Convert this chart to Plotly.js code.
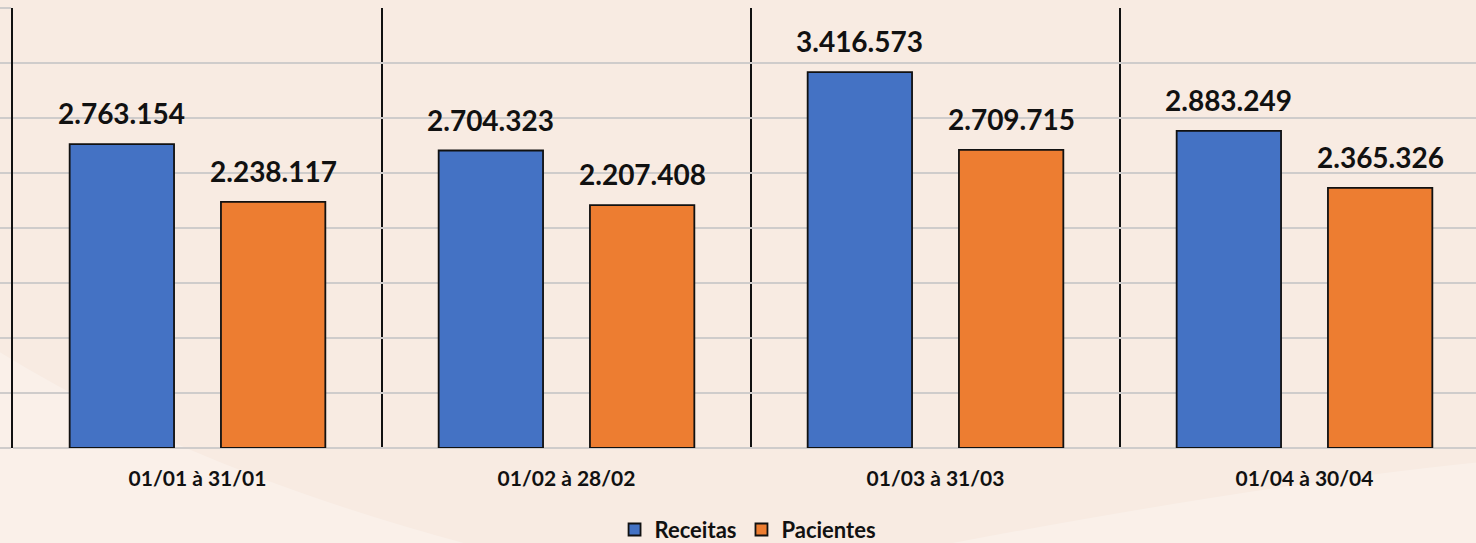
<!DOCTYPE html>
<html>
<head>
<meta charset="utf-8">
<script src="https://cdn.plot.ly/plotly-3.0.1.min.js"></script>
<style>
  html, body { margin: 0; padding: 0; overflow: hidden; background: #f8ebe2; }
  #chart { width: 1490px; height: 543px; }
</style>
</head>
<body>
<div id="chart"></div>
<script>
// ---- data ----
const categories = ["01/01 à 31/01", "01/02 à 28/02", "01/03 à 31/03", "01/04 à 30/04"];
const receitas = [2763154, 2704323, 3416573, 2883249];
const pacientes = [2238117, 2207408, 2709715, 2365326];
const seriesNames = ["Receitas", "Pacientes"];
const seriesColors = ["#4472C4", "#ED7D31"];

function fmt(v) {
  return String(v).replace(/\B(?=(\d{3})+(?!\d))/g, ".");
}

const BARGAP = 0.18;
const BARGROUPGAP = 0.31;
const slot = (1 - BARGAP) / 2;

const fontFam = "Lato, 'Open Sans', sans-serif";

const traces = [receitas, pacientes].map((vals, k) => ({
  type: "bar",
  name: seriesNames[k],
  x: categories,
  y: vals,
  marker: { color: seriesColors[k], line: { color: "#111111", width: 1.8 } },
  hoverinfo: "none"
}));

const annotations = [];
[receitas, pacientes].forEach((vals, k) => {
  const off = (k === 0 ? -1 : 1) * slot / 2;
  vals.forEach((v, i) => {
    annotations.push({
      x: i + off, y: v, xref: "x", yref: "y",
      text: "<b>" + fmt(v) + "</b>",
      showarrow: false, yanchor: "bottom", xanchor: "center",
      yshift: 12,
      font: { family: fontFam, size: 28, color: "#111111" }
    });
  });
});

// soft background bands (decorative)
const shapes = [
  { type: "path", xref: "paper", yref: "paper", layer: "below",
    path: "M -0.01,0.22 Q 0.12,-0.05 0.31,-0.22 L -0.01,-0.22 Z",
    fillcolor: "rgba(255,255,255,0.25)", line: { width: 0 } },
  { type: "path", xref: "paper", yref: "paper", layer: "below",
    path: "M 0.63,-0.22 Q 0.85,-0.08 1.0,-0.03 L 1.0,-0.22 Z",
    fillcolor: "rgba(255,255,255,0.25)", line: { width: 0 } }
];

const layout = {
  width: 1490, height: 543,
  margin: { l: 13, r: 1, t: 8, b: 95, autoexpand: false },
  paper_bgcolor: "#f8ebe2",
  plot_bgcolor: "rgba(0,0,0,0)",
  barmode: "group",
  bargap: BARGAP,
  bargroupgap: BARGROUPGAP,
  showlegend: true,
  legend: {
    orientation: "h", x: 0.498, xanchor: "center", y: -0.138, yanchor: "top",
    font: { family: fontFam, size: 22, color: "#111111", weight: "bold" },
    itemclick: false, itemdoubleclick: false,
    traceorder: "normal"
  },
  xaxis: {
    type: "category",
    tickson: "boundaries",
    showgrid: true, gridcolor: "#111111", gridwidth: 2,
    ticks: "", ticklabelstandoff: 16,
    tickfont: { family: fontFam, size: 21, color: "#111111", weight: "bold" },
    showline: false, zeroline: false,
    range: [-0.5, 3.5], fixedrange: true
  },
  yaxis: {
    range: [0, 4000000], dtick: 500000, tick0: 0,
    showticklabels: false,
    showgrid: true, gridcolor: "#cfcccb", gridwidth: 2,
    zeroline: true, zerolinecolor: "#cfcccb", zerolinewidth: 2,
    ticks: "outside", ticklen: 13, tickcolor: "#cfcccb", tickwidth: 2,
    showline: true, linecolor: "#111111", linewidth: 2,
    fixedrange: true
  },
  annotations: annotations,
  shapes: shapes
};

Plotly.newPlot("chart", traces, layout, { displayModeBar: false, staticPlot: true });
</script>
</body>
</html>
